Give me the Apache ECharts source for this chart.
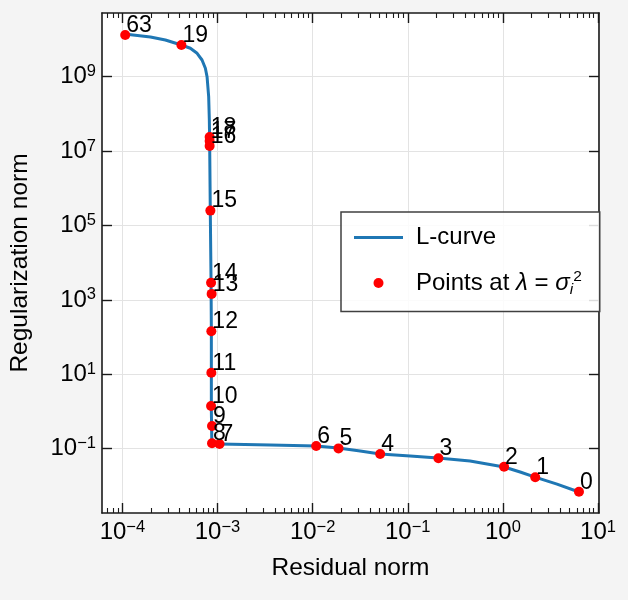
<!DOCTYPE html>
<html>
<head>
<meta charset="utf-8">
<script src="https://cdn.jsdelivr.net/npm/echarts@6/dist/echarts.min.js"></script>
<style>html,body{margin:0;padding:0;background:#f4f4f4;}#chart{width:628px;height:600px;}</style>
</head>
<body>
<div id="chart"></div>
<script>
// L-curve samples
const curveX = [1.05e-4, 1.97e-4, 2.83e-4, 4.17e-4, 5.18e-4, 6.10e-4, 6.87e-4, 7.45e-4, 7.76e-4, 8.07e-4,
  8.20e-4, 8.26e-4, 8.39e-4, 8.55e-4, 8.61e-4, 8.61e-4, 8.61e-4, 8.71e-4, 9.25e-4, 1.045e-3,
  3.59e-3, 1.09e-2, 1.86e-2, 3.16e-2, 5.13e-2, 0.106, 0.208, 0.452, 1.03, 1.52,
  2.18, 3.71, 6.31];
const curveY = [1.41e10, 1.17e10, 9.70e9, 7.11e9, 5.80e9, 4.26e9, 2.81e9, 1.68e9, 1.0e9, 2.90e8,
  6.85e7, 1.99e7, 2.61e5, 2.84e3, 155, 10.8, 1.10, 0.142, 0.134, 0.134,
  0.126, 0.118, 0.104, 0.0867, 0.0721, 0.0637, 0.0562, 0.0467, 0.0322, 0.0237,
  0.0173, 0.0112, 0.00686];

// Points at lambda = sigma_i^2
const pointLabels = [63, 19, 18, 17, 16, 15, 14, 13, 12, 11, 10, 9, 8, 7, 6, 5, 4, 3, 2, 1, 0];
const pointX = [1.07e-4, 4.17e-4, 8.26e-4, 8.26e-4, 8.26e-4, 8.41e-4, 8.55e-4, 8.67e-4, 8.61e-4, 8.61e-4,
  8.55e-4, 8.75e-4, 8.75e-4, 1.05e-3, 1.09e-2, 1.87e-2, 5.13e-2, 0.210, 1.03, 2.19, 6.31];
const pointY = [1.32e10, 7.08e9, 2.40e7, 1.86e7, 1.38e7, 2.51e5, 2.88e3, 1.45e3, 143, 11.0,
  1.41, 0.407, 0.140, 0.134, 0.118, 0.102, 0.0719, 0.0552, 0.0328, 0.0170, 0.00698];

// Axis ticks
const xMajorTicks = [1e-4, 1e-3, 1e-2, 1e-1, 1, 10];
const xMinorTicks = [7e-5, 8e-5, 9e-5,
  2e-4, 3e-4, 4e-4, 5e-4, 6e-4, 7e-4, 8e-4, 9e-4,
  2e-3, 3e-3, 4e-3, 5e-3, 6e-3, 7e-3, 8e-3, 9e-3,
  2e-2, 3e-2, 4e-2, 5e-2, 6e-2, 7e-2, 8e-2, 9e-2,
  0.2, 0.3, 0.4, 0.5, 0.6, 0.7, 0.8, 0.9,
  2, 3, 4, 5, 6, 7, 8, 9];
const yMajorTicks = [1e-1, 1e1, 1e3, 1e5, 1e7, 1e9];
const xRange = [6.1e-5, 10.25];
const yRange = [1.87e-3, 5.15e10];

const FONT = 'Liberation Sans';
const frameColor = '#1a1a1a';

function powLabel(v) {
  const e = Math.round(Math.log10(v));
  const s = e < 0 ? '\u2212' + Math.abs(e) : String(e);
  return '{b|10}{s|' + s + '}';
}
const powRich = {
  b: { fontSize: 24, lineHeight: 27, fontFamily: FONT, color: '#000' },
  s: { fontSize: 16.5, lineHeight: 16, verticalAlign: 'top', fontFamily: FONT, color: '#000' }
};

const chart = echarts.init(document.getElementById('chart'), null, { renderer: 'canvas' });

function xAxisCfg(pos, major, showLabel, isMain) {
  return {
    type: 'log', position: pos, min: xRange[0], max: xRange[1], gridIndex: 0,
    logBase: 10,
    axisLine: { show: isMain, onZero: false, lineStyle: { color: frameColor, width: 1.6 } },
    axisTick: {
      show: true, inside: true, length: major ? 10 : 5,
      customValues: major ? xMajorTicks : xMinorTicks,
      lineStyle: { color: frameColor, width: major ? 1.4 : 1.1 }
    },
    axisLabel: showLabel ? {
      show: true, margin: 6, customValues: xMajorTicks,
      formatter: powLabel, rich: powRich, fontFamily: FONT
    } : { show: false },
    splitLine: { show: showLabel, lineStyle: { color: '#e3e3e3', width: 1 } },
    minorTick: { show: false }, minorSplitLine: { show: false },
    name: showLabel ? 'Residual norm' : '',
    nameLocation: 'middle', nameGap: 43,
    nameTextStyle: { fontSize: 24.5, fontFamily: FONT, color: '#000' }
  };
}

const option = {
  backgroundColor: '#f4f4f4',
  animation: false,
  textStyle: { fontFamily: FONT },
  grid: {
    left: 101, right: 29, top: 13, bottom: 87,
    show: true, backgroundColor: '#ffffff', borderWidth: 0
  },
  xAxis: [
    xAxisCfg('bottom', true, true, true),
    xAxisCfg('bottom', false, false, false),
    xAxisCfg('top', true, false, true),
    xAxisCfg('top', false, false, false)
  ],
  yAxis: [
    {
      type: 'log', position: 'left', min: yRange[0], max: yRange[1],
      axisLine: { show: true, onZero: false, lineStyle: { color: frameColor, width: 1.6 } },
      axisTick: { show: true, inside: true, length: 10, customValues: yMajorTicks,
        lineStyle: { color: frameColor, width: 1.4 } },
      axisLabel: { show: true, margin: 6, customValues: yMajorTicks, formatter: powLabel, rich: powRich },
      splitLine: { show: true, lineStyle: { color: '#e3e3e3', width: 1 } },
      name: 'Regularization norm', nameLocation: 'middle', nameGap: 69, nameRotate: 90,
      nameTextStyle: { fontSize: 24.5, fontFamily: FONT, color: '#000' }
    },
    {
      type: 'log', position: 'right', min: yRange[0], max: yRange[1],
      axisLine: { show: true, onZero: false, lineStyle: { color: frameColor, width: 1.6 } },
      axisTick: { show: true, inside: true, length: 10, customValues: yMajorTicks,
        lineStyle: { color: frameColor, width: 1.4 } },
      axisLabel: { show: false },
      splitLine: { show: false }
    }
  ],
  legend: {
    orient: 'vertical', left: 341, top: 212,
    itemWidth: 49, itemHeight: 10, itemGap: 16.5,
    padding: [11, 18, 14, 13],
    backgroundColor: 'rgba(255,255,255,0.85)',
    borderColor: '#404040', borderWidth: 1.5, borderRadius: 0,
    textStyle: {
      fontSize: 24, lineHeight: 29, color: '#000', fontFamily: FONT,
      rich: {
        f: { fontSize: 24, lineHeight: 29, fontFamily: FONT, color: '#000', padding: [0, 0, 0, 8] },
        n: { fontSize: 24, lineHeight: 29, fontFamily: FONT, color: '#000' },
        it: { fontSize: 24, lineHeight: 29, fontStyle: 'italic', fontFamily: FONT, color: '#000' },
        sub: { fontSize: 15.5, lineHeight: 15, fontStyle: 'italic', verticalAlign: 'bottom', fontFamily: FONT, color: '#000' },
        sup: { fontSize: 15.5, lineHeight: 15, verticalAlign: 'top', fontFamily: FONT, color: '#000' }
      }
    },
    formatter: function (name) {
      if (name === 'L-curve') return '{f|L-curve}';
      return '{f|Points at }{it|\u03bb}{n| = }{it|\u03c3}{sub|i}{sup|2}';
    },
    data: [
      { name: 'L-curve', icon: 'path://M0,0L49,0L49,3L0,3Z' },
      { name: 'Points', icon: 'circle' }
    ]
  },
  series: [
    {
      name: 'L-curve', type: 'line', xAxisIndex: 0, yAxisIndex: 0,
      data: curveX.map((x, i) => [x, curveY[i]]),
      symbol: 'none', smooth: false,
      lineStyle: { color: '#1f77b4', width: 3 },
      itemStyle: { color: '#1f77b4' },
      z: 2
    },
    {
      name: 'Points', type: 'scatter', xAxisIndex: 0, yAxisIndex: 0,
      data: pointX.map((x, i) => [x, pointY[i], pointLabels[i]]),
      symbol: 'circle', symbolSize: 10,
      itemStyle: { color: '#ff0000', opacity: 1 },
      label: {
        show: true, position: [6, 7], align: 'left', verticalAlign: 'bottom',
        fontSize: 23, lineHeight: 23, fontFamily: FONT, color: '#000',
        formatter: function (p) { return String(p.value[2]); }
      },
      emphasis: { disabled: true },
      z: 3
    }
  ]
};
chart.setOption(option);
</script>
</body>
</html>
